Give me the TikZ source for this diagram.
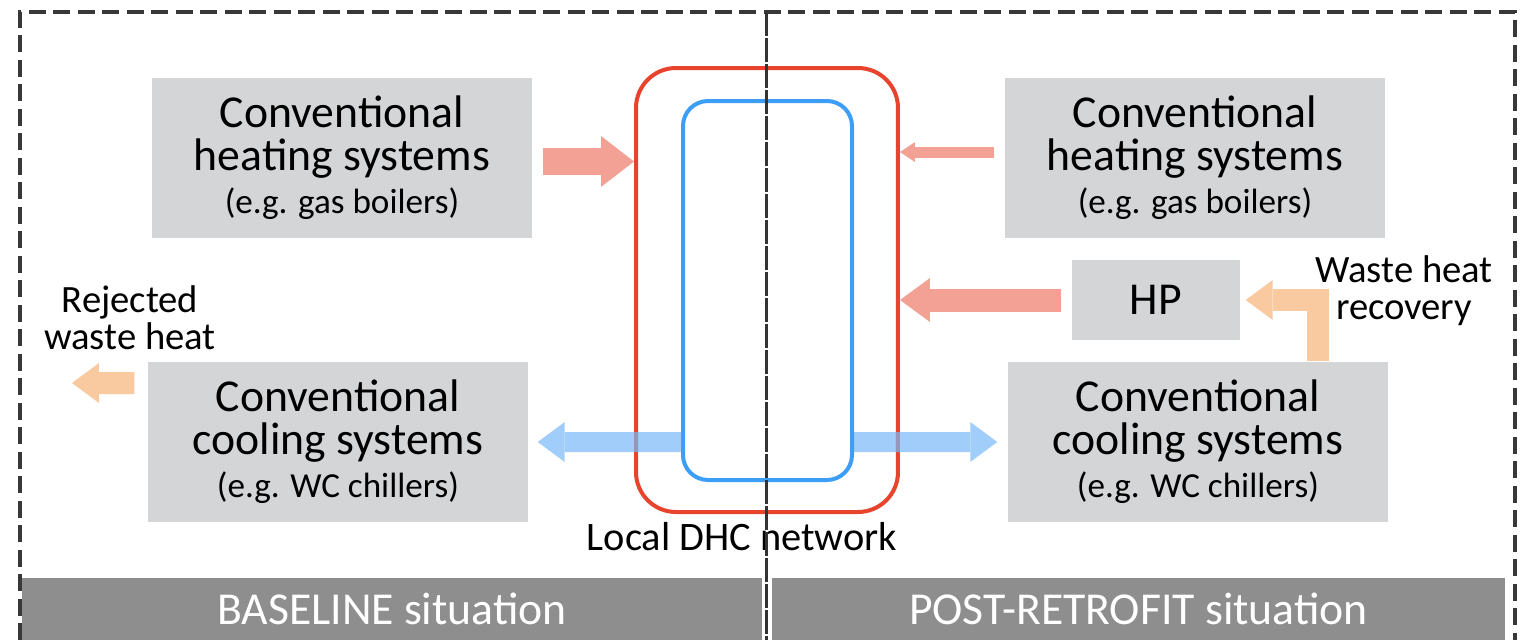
\documentclass[tikz,border=0pt]{standalone}
\usepackage{fontspec}
\setmainfont{Carlito}
\usetikzlibrary{arrows.meta}
\usetikzlibrary{positioning}
\definecolor{boxgray}{HTML}{D4D5D7}
\definecolor{bargray}{HTML}{8E8E8E}
\definecolor{netred}{HTML}{E8432D}
\definecolor{netblue}{HTML}{3D9EF7}
\definecolor{heatred}{HTML}{F2A194}
\definecolor{wasteorange}{HTML}{F9C9A0}
\definecolor{coolblue}{HTML}{77B8F6}
\definecolor{framegray}{HTML}{383838}
\tikzset{sysbox/.style={fill=boxgray, minimum width=38mm, minimum height=16mm, inner sep=0pt, align=center, font=\fontsize{13}{12.2}\selectfont},
  bar/.style={fill=bargray, text=white, minimum height=6.2mm, inner sep=0pt, font=\fontsize{13}{15}\selectfont},
  note/.style={align=center, inner sep=0pt, font=\fontsize{11}{10.6}\selectfont},
  frame/.style={draw=framegray, line width=0.33mm, dash pattern=on 1.7mm off 0.75mm},
  midline/.style={draw=black!80, line width=0.3mm, dash pattern=on 2.4mm off 0.2mm},
  heatbig/.style={draw=heatred, line width=2.7mm, -{Triangle[length=3.3mm, width=5.1mm, line width=0pt]}},
  heatthin/.style={draw=heatred, line width=1.1mm, -{Triangle[length=1.5mm, width=2mm, line width=0pt]}},
  heatmid/.style={draw=heatred, line width=2.3mm, -{Triangle[length=3mm, width=4.4mm, line width=0pt]}},
  waste/.style={draw=wasteorange, line width=2.2mm, line join=miter, -{Triangle[length=2.7mm, width=4mm, line width=0pt]}},
  cool/.style={draw=coolblue, line width=2mm, -{Triangle[length=2.7mm, width=4mm, line width=0pt]}}}
\newcommand{\egnote}[1]{{\fontsize{10}{11.4}\selectfont (e.g. #1)}}

\begin{document}
\begin{tikzpicture}[x=0.1mm,y=-0.1mm]
\useasboundingbox (0,0) rectangle (1527,640);
\draw[frame] (20,640) -- (20,12) -- (1515,12) -- (1515,640);
\node (base) [bar, minimum width=74mm] at (392,609) {BASELINE situation};
\node (post) [bar, minimum width=73.3mm] at (1138.5,609) {POST-RETROFIT situation};
\node (hl) [sysbox] at (342,158) {Conventional\\heating systems\\\egnote{gas boilers}};
\node (cl) [sysbox] at (338,442) {Conventional\\cooling systems\\\egnote{WC chillers}};
\node (hr) [sysbox] at (1195,158) {Conventional\\heating systems\\\egnote{gas boilers}};
\node (cr) [sysbox] at (1198,442) {Conventional\\cooling systems\\\egnote{WC chillers}};
\node (hp) [sysbox, minimum width=16.8mm, minimum height=8mm] at (1156,300) {HP};
\node (net) [draw=netred, line width=0.4mm, rounded corners=4mm, minimum width=26.2mm, minimum height=44.4mm, inner sep=0pt] at (767,290) {};
\node (loop) [draw=netblue, line width=0.4mm, rounded corners=2.5mm, minimum width=16.9mm, minimum height=37.9mm, inner sep=0pt] at (767.5,290.5) {};
\node (netlabel) [note, font=\fontsize{11.5}{13}\selectfont] at (742,537) {Local DHC network};
\node (rejlabel) [note] at (130,318) {Rejected\\waste heat};
\node (reclabel) [note] at (1404,291) {Waste heat\\recovery};
\coordinate (rejend) at (72,383);
\draw[heatbig] ([xshift=1mm,yshift=-0.35mm]hl.east) -- ([yshift=-0.35mm]hl.east -| net.west);
\draw[heatthin] ([xshift=-1mm,yshift=0.6mm]hr.west) -- ([yshift=0.6mm]hr.west -| net.east);
\draw[heatmid] ([xshift=-1mm]hp.west) -- (hp.west -| net.east);
\draw[waste] ([xshift=12mm]cr.north) |- ([xshift=0.5mm]hp.east);
\draw[waste] ([xshift=-1.3mm,yshift=5.9mm]cl.west) -- (rejend);
\begin{scope}[transparency group, opacity=0.7]
\draw[cool] (cl.east -| loop.west) -- ([xshift=0.9mm]cl.east);
\draw[cool] (cr.west -| loop.east) -- ([xshift=-1mm]cr.west);
\end{scope}
\draw[midline] (766,12) -- (766,640);
\end{tikzpicture}
\end{document}
